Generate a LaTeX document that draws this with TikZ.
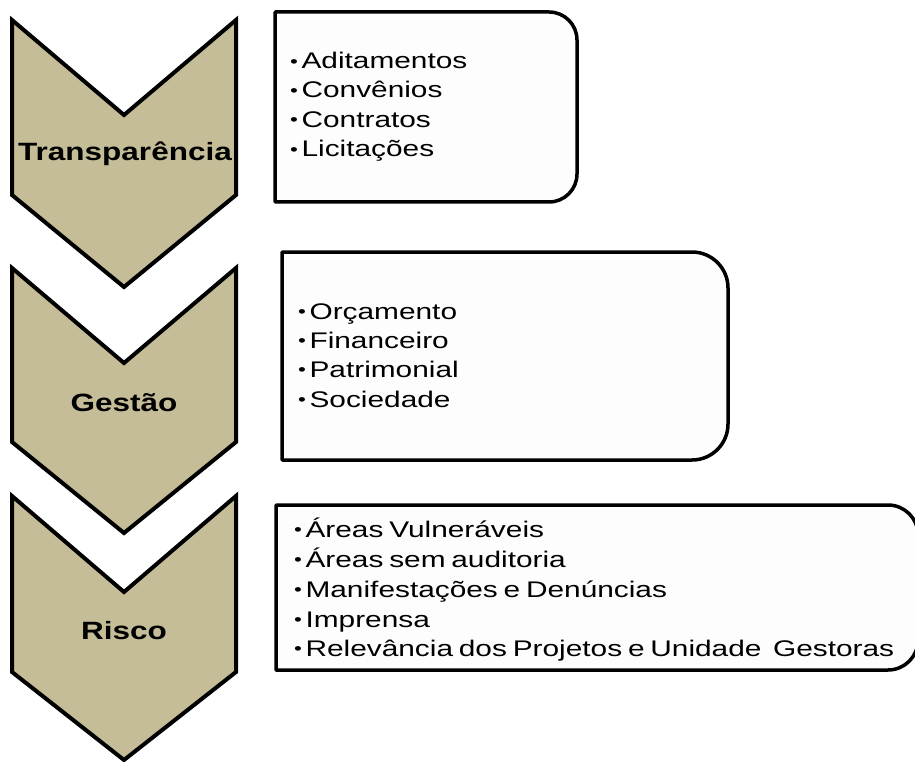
\documentclass[tikz,border=0pt]{standalone}
\usepackage{fontspec}
\setmainfont{Liberation Sans}
\newfontfamily\stagefont{Liberation Sans}[FakeStretch=1.26]
\newfontfamily\itemfont{Liberation Sans}[FakeStretch=1.32]
\definecolor{chevfill}{HTML}{C4BD97}
\definecolor{panelfill}{HTML}{FDFDFD}
% small centred bullet followed by the item text, with tight word spacing
\newcommand{\itm}[1]{\spaceskip=5.8pt\relax\raisebox{1.6pt}{\fontsize{17}{20}\selectfont\textbullet}\kern3.5pt #1}
\tikzset{
  chevron/.style={draw=black, line width=4pt, line join=miter, fill=chevfill},
  panel/.style={draw=black, line width=3.5pt, line join=round, fill=panelfill},
  stagelabel/.style={anchor=base, inner sep=0pt, font=\stagefont\bfseries\fontsize{25}{30}\selectfont},
  itemtext/.style={anchor=base west, inner sep=0pt, font=\itemfont\fontsize{22.6}{26}\selectfont}
}
\begin{document}
\begin{tikzpicture}[x=1pt,y=-1pt]
\useasboundingbox (0,0) rectangle (915,762);
\clip (0,0) rectangle (915,762);

% three stage chevrons
\draw[chevron] (12,20) -- (124,115) -- (236,20) -- (236,195) -- (124,287) -- (12,195) -- cycle;
\draw[chevron] (12,268) -- (124,363) -- (236,268) -- (236,442) -- (124,533) -- (12,442) -- cycle;
\draw[chevron] (12,496) -- (124,592) -- (236,496) -- (236,672) -- (124,760) -- (12,672) -- cycle;

\node[stagelabel] (st1) at (125,161) {Transparência};
\node[stagelabel] (st2) at (124,411) {Gestão};
\node[stagelabel] (st3) at (124,639) {Risco};

% panels: square left corners, rounded right corners
\draw[panel] (275,12) -- (549,12) arc[start angle=90, end angle=0, radius=28pt]
  -- (577,174) arc[start angle=0, end angle=-90, radius=28pt] -- (275,202) -- cycle;
\draw[panel] (282,252) -- (692,252) arc[start angle=90, end angle=0, radius=36pt]
  -- (728,424) arc[start angle=0, end angle=-90, radius=36pt] -- (282,460) -- cycle;
\draw[panel] (276,505) -- (888,505) arc[start angle=90, end angle=0, radius=30pt]
  -- (918,640) arc[start angle=0, end angle=-90, radius=30pt] -- (276,670) -- cycle;

% items of the first panel
\node[itemtext] (a1) at (290,69)  {\itm{Aditamentos}};
\node[itemtext] (a2) at (290,98)  {\itm{Convênios}};
\node[itemtext] (a3) at (290,127.5) {\itm{Contratos}};
\node[itemtext] (a4) at (290,157) {\itm{Licitações}};

% items of the second panel
\node[itemtext] (b1) at (298,319) {\itm{Orçamento}};
\node[itemtext] (b2) at (298,348) {\itm{Financeiro}};
\node[itemtext] (b3) at (298,377) {\itm{Patrimonial}};
\node[itemtext] (b4) at (298,407) {\itm{Sociedade}};

% items of the third panel
\node[itemtext] (c1) at (294,537) {\itm{Áreas Vulneráveis}};
\node[itemtext] (c2) at (294,567) {\itm{Áreas sem auditoria}};
\node[itemtext] (c3) at (294,597) {\itm{Manifestações e Denúncias}};
\node[itemtext] (c4) at (294,627) {\itm{Imprensa}};
\node[itemtext] (c5) at (294,656) {\itm{Relevância dos Projetos e Unidade\hspace{5.8pt} Gestoras}};
\end{tikzpicture}
\end{document}
